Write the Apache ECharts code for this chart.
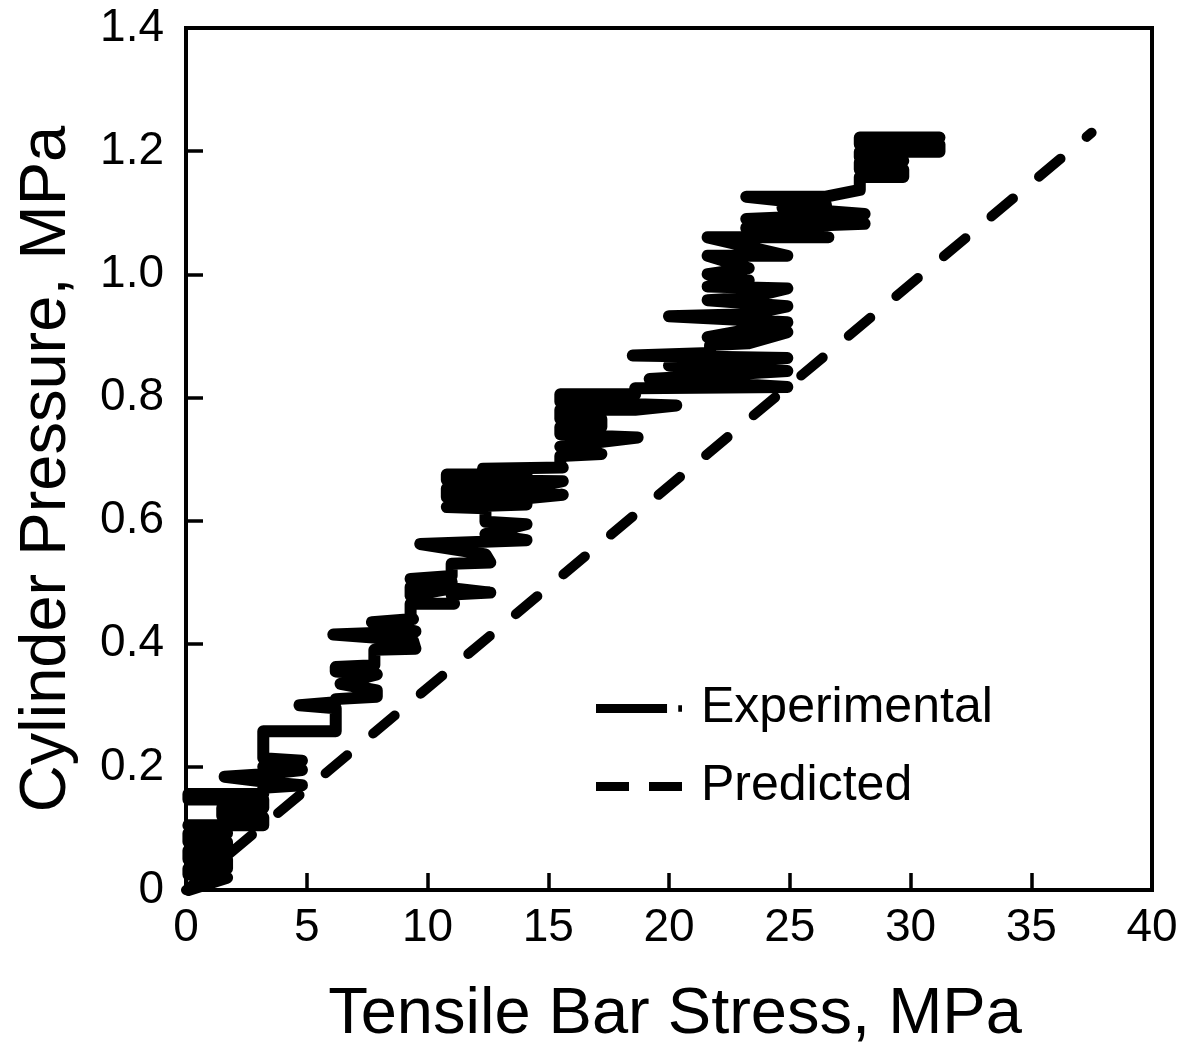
<!DOCTYPE html>
<html><head><meta charset="utf-8">
<script src="https://cdn.jsdelivr.net/npm/echarts@6/dist/echarts.min.js"></script>
<style>html,body{margin:0;padding:0;background:#fff}#c{width:1187px;height:1053px}</style>
</head><body><div id="c"></div>
<script>
const xTickLabels = ['0','5','10','15','20','25','30','35','40'];
const yTickLabels = ['0','0.2','0.4','0.6','0.8','1.0','1.2','1.4'];
const seriesNames = ['Experimental','Predicted'];

// Experimental trace (stress, pressure)
const expStress = [
  0.1,1.7,0.1,0.1,1.7,1.7,0.1,0.1,1.7,1.7,0.1,0.1,1.7,
  0.1,3.2,3.2,1.5,1.5,3.2,3.2,0.1,0.1,3.2,
  3.2,4.8,3.2,1.6,3.2,4.8,3.2,4.8,3.2,3.2,6.2,
  6.2,4.7,6.2,6.2,7.9,7.9,6.4,7.9,6.2,6.2,7.8,7.8,9.5,9.4,6.1,9.5,7.7,9.4,
  9.3,9.3,11.1,11.0,12.6,11.0,9.3,9.3,11.0,9.3,11.0,11.0,12.6,
  12.4,9.7,14.1,12.4,14.1,12.4,12.4,
  10.8,14.1,14.1,15.6,10.8,10.8,14.1,15.6,10.8,10.8,14.1,12.3,15.6,
  15.5,15.5,17.2,15.5,18.7,15.5,15.5,17.2,17.2,15.5,15.5,18.6,20.3,15.5,15.5,18.6,
  18.6,24.9,19.2,24.9,20.0,24.9,18.5,21.7,21.7,23.3,24.9,21.6,23.3,24.9,20.0,23.3,24.9,
  21.6,23.3,24.9,21.6,23.3,21.6,23.3,21.6,24.9,21.6,26.6,
  23.2,28.1,23.2,28.1,24.7,26.5,23.2,26.5,27.9,
  27.9,29.7,29.7,27.9,27.9,29.7,27.9,27.9,31.2,31.2,27.9,27.9,31.2
];
const expPressure = [
  0.0,0.02,0.025,0.035,0.035,0.05,0.05,0.064,0.064,0.078,0.078,0.092,0.092,
  0.105,0.105,0.118,0.12,0.133,0.133,0.147,0.147,0.156,0.156,
  0.166,0.17,0.176,0.184,0.188,0.195,0.2,0.21,0.214,0.258,0.258,
  0.295,0.3,0.305,0.31,0.314,0.324,0.335,0.35,0.355,0.362,0.365,0.39,0.392,0.405,0.415,0.42,0.435,0.44,
  0.445,0.465,0.465,0.48,0.483,0.49,0.478,0.492,0.5,0.505,0.51,0.53,0.532,
  0.545,0.562,0.568,0.578,0.594,0.598,0.62,
  0.622,0.626,0.636,0.642,0.638,0.652,0.652,0.664,0.666,0.675,0.675,0.684,0.686,
  0.686,0.705,0.708,0.72,0.735,0.74,0.752,0.752,0.765,0.765,0.78,0.78,0.787,0.793,0.805,0.805,
  0.815,0.817,0.83,0.843,0.852,0.864,0.868,0.872,0.885,0.888,0.906,0.898,0.91,0.922,0.932,0.935,0.948,
  0.958,0.962,0.977,0.98,0.99,1.0,1.01,1.03,1.03,1.06,1.06,
  1.075,1.082,1.09,1.098,1.108,1.112,1.126,1.126,1.137,
  1.158,1.158,1.17,1.17,1.182,1.184,1.19,1.199,1.199,1.211,1.211,1.222,1.222
];
const predStress = [0, 37.5];
const predPressure = [0, 1.23];

const FONT = '"Liberation Sans", Arial, Helvetica, sans-serif';
const chart = echarts.init(document.getElementById('c'), null, {renderer:'canvas'});
chart.setOption({
  animation: false,
  backgroundColor: '#ffffff',
  grid: {left: 186, right: 35, top: 28, bottom: 161, show: true, borderColor: '#000', borderWidth: 4, backgroundColor: 'transparent'},
  xAxis: {
    type: 'value', min: 0, max: 40, interval: 5,
    name: 'Tensile Bar Stress, MPa', nameLocation: 'middle', nameGap: 93,
    nameTextStyle: {fontSize: 65, fontFamily: FONT, color: '#000', padding: [0,0,0,12]},
    axisLine: {show: true, lineStyle: {color: '#000', width: 4}},
    axisTick: {show: true, inside: true, length: 17, lineStyle: {color: '#000', width: 3.5}},
    axisLabel: {fontSize: 46, fontFamily: FONT, color: '#000', margin: 15,
      formatter: v => xTickLabels[Math.round(v/5)]},
    splitLine: {show: false}
  },
  yAxis: {
    type: 'value', min: 0, max: 1.4, interval: 0.2,
    name: 'Cylinder Pressure, MPa', nameLocation: 'middle', nameGap: 106,
    nameTextStyle: {fontSize: 65, fontFamily: FONT, color: '#000', padding: [0,20,0,0]},
    axisLine: {show: true, lineStyle: {color: '#000', width: 4}},
    axisTick: {show: true, inside: true, length: 17, lineStyle: {color: '#000', width: 3.5}},
    axisLabel: {fontSize: 46, fontFamily: FONT, color: '#000', margin: 22,
      formatter: v => yTickLabels[Math.round(v/0.2)]},
    splitLine: {show: false}
  },
  legend: {
    orient: 'vertical', left: 596, top: 683, padding: 0, itemWidth: 86, itemHeight: 9, itemGap: 27,
    symbolKeepAspect: false,
    textStyle: {fontSize: 50, fontFamily: FONT, color: '#000', lineHeight: 51, padding: [0,0,0,14]},
    data: [
      {name: seriesNames[0], icon: 'path://M0,1H76V8H0Z M88,2H92V7H88Z', itemStyle: {color: '#000'}},
      {name: seriesNames[1], icon: 'path://M0,0H33V9H0Z M53,0H86V9H53Z', itemStyle: {color: '#000'}}
    ]
  },
  series: [
    {
      name: seriesNames[0], type: 'line', symbol: 'none', clip: true,
      data: expStress.map((x, i) => [x, expPressure[i]]),
      lineStyle: {color: '#000', width: 12, cap: 'round', join: 'round'},
      itemStyle: {color: '#000'}
    },
    {
      name: seriesNames[1], type: 'line', symbol: 'none', clip: true,
      data: predStress.map((x, i) => [x, predPressure[i]]),
      lineStyle: {color: '#000', width: 10, type: [28,34], dashOffset: 4, cap: 'round'},
      itemStyle: {color: '#000'}
    }
  ]
});
</script>
</body></html>
